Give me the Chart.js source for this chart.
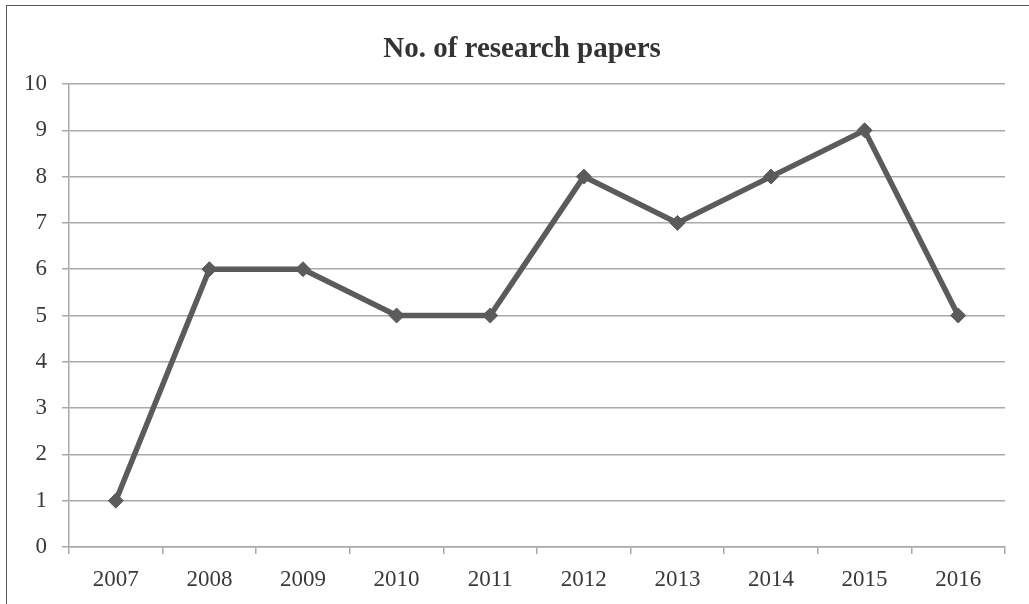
<!DOCTYPE html>
<html>
<head>
<meta charset="utf-8">
<script src="https://cdn.jsdelivr.net/npm/chart.js@4"></script>
<style>
  html, body { margin: 0; padding: 0; background: #ffffff; overflow: hidden; }
  #frame {
    position: absolute; left: 6px; top: 5px; width: 1040px; height: 620px;
    border: 1.5px solid #5a5a5a; box-sizing: border-box;
  }
  #c { position: absolute; left: 0; top: 0; }
</style>
</head>
<body>
<div id="frame"></div>
<canvas id="c" width="1029" height="604"></canvas>
<script>
const titleText = 'No. of research papers';
const years = ['2007', '2008', '2009', '2010', '2011', '2012', '2013', '2014', '2015', '2016'];
const papers = [1, 6, 6, 5, 5, 8, 7, 8, 9, 5];
const yTicks = [0, 1, 2, 3, 4, 5, 6, 7, 8, 9, 10];

const gridGray = '#a9a9a9';
const textGray = '#3a3a3a';
const lineGray = '#5b5b5b';
const serif = '"Liberation Serif", "Times New Roman", serif';

// Chart heading, centred over the frame
const headingPlugin = {
  id: 'heading',
  afterDraw(chart) {
    const ctx = chart.ctx;
    ctx.save();
    ctx.font = 'bold 29px ' + serif;
    ctx.fillStyle = '#333333';
    ctx.textAlign = 'center';
    ctx.textBaseline = 'alphabetic';
    ctx.fillText(titleText, 522, 57);
    ctx.restore();
  }
};

new Chart(document.getElementById('c'), {
  type: 'line',
  data: {
    labels: years,
    datasets: [{
      label: titleText,
      data: papers,
      borderColor: lineGray,
      backgroundColor: lineGray,
      borderWidth: 5.5,
      tension: 0,
      pointStyle: 'rectRot',
      pointRadius: 7.5,
      pointBorderWidth: 1,
      pointBackgroundColor: lineGray,
      pointBorderColor: lineGray
    }]
  },
  options: {
    responsive: false,
    animation: false,
    layout: { padding: { top: 84, right: 24, left: 0, bottom: 0 } },
    plugins: {
      legend: { display: false },
      title: { display: false },
      tooltip: { enabled: false }
    },
    scales: {
      x: {
        type: 'category',
        offset: true,
        grid: {
          display: true,
          offset: true,
          drawOnChartArea: false,
          drawTicks: true,
          tickLength: 7,
          color: gridGray,
          lineWidth: 1.5
        },
        border: { display: true, color: gridGray, width: 1.5 },
        ticks: {
          color: textGray,
          padding: 12,
          maxRotation: 0,
          font: { family: serif, size: 23 }
        },
        afterFit(scale) { scale.height = 57; }
      },
      y: {
        min: 0,
        max: 10,
        afterBuildTicks(scale) { scale.ticks = yTicks.map(v => ({ value: v })); },
        grid: {
          color: gridGray,
          lineWidth: 1.5,
          drawTicks: true,
          tickLength: 7
        },
        border: { display: true, color: gridGray, width: 1.5 },
        ticks: {
          color: textGray,
          padding: 15,
          font: { family: serif, size: 23 }
        },
        afterFit(scale) { scale.width = 69; }
      }
    }
  },
  plugins: [headingPlugin]
});
</script>
</body>
</html>
